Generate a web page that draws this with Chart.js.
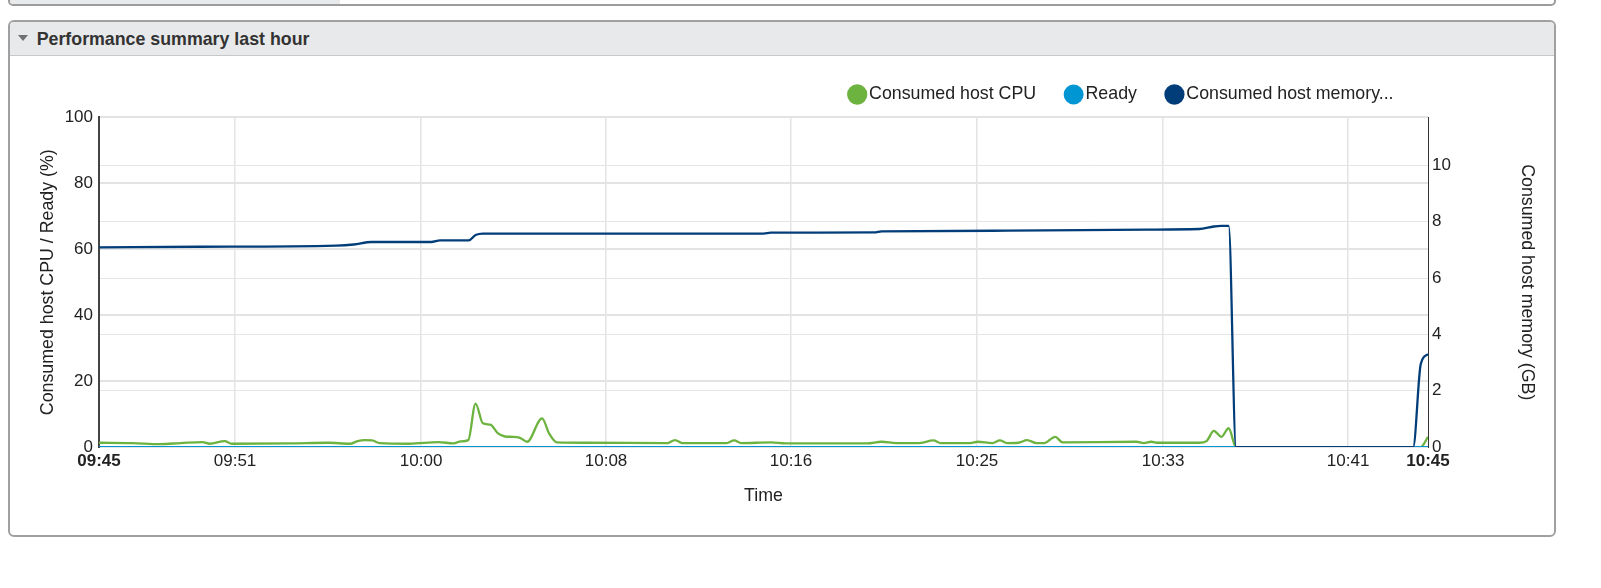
<!DOCTYPE html>
<html>
<head>
<meta charset="utf-8">
<title>Performance summary last hour</title>
<script src="https://cdn.jsdelivr.net/npm/chart.js@4.4.1/dist/chart.umd.min.js"></script>
<style>
  html, body { margin: 0; padding: 0; background: #fff; }
  body { width: 1601px; height: 588px; position: relative; overflow: hidden; font-family: Arial, "Liberation Sans", sans-serif; }
  .prev-panel { position: absolute; left: 8px; top: -10px; width: 1544px; height: 12px; border: 2px solid #9c9c9c; border-radius: 0 0 5px 5px; overflow: hidden; }
  .prev-panel .fill { position: absolute; left: 0; top: 0; bottom: 0; width: 330px; background: #e8eaec; }
  .panel { position: absolute; left: 8px; top: 20px; width: 1544px; height: 513px; border: 2px solid #a0a0a0; border-radius: 6px; }
  .panel-header { position: relative; height: 33px; background: #e8e9ea; border-bottom: 1px solid #c8c8c8; border-radius: 4px 4px 0 0; }
  .panel-header .caret { position: absolute; left: 8px; top: 13px; width: 0; height: 0; border-left: 5px solid transparent; border-right: 5px solid transparent; border-top: 6px solid #707070; }
  .panel-header .title { position: absolute; left: 26.7px; top: 0; line-height: 34px; font-weight: bold; font-size: 17.8px; color: #333; }
  #chart { position: absolute; left: 0; top: 0; z-index: 1; }
</style>
</head>
<body>
<div class="prev-panel"><div class="fill"></div></div>
<div class="panel">
  <div class="panel-header"><span class="caret"></span><span class="title">Performance summary last hour</span></div>
</div>
<canvas id="chart" width="1601" height="588"></canvas>

<script>
// time is in minutes after 09:45 (one hour window)
const cpuMinutes = [0, 1.5, 2.75, 3.67, 4.67, 5, 5.67, 6, 8.67, 10.33, 11.33, 11.67, 12, 12.33, 12.67, 14,
  15.33, 16, 16.33, 16.67, 17, 17.33, 17.67, 18, 18.33, 18.67, 19, 19.33, 20, 20.33, 20.67, 22,
  25.67, 26, 26.33, 28.33, 28.67, 29, 30.33, 31, 34.67, 35.33, 36, 37, 37.67, 38, 39.33, 39.67,
  40.33, 40.67, 41, 41.5, 41.9, 42.33, 42.67, 43.17, 43.5, 46.83, 47.17, 47.5, 47.83, 49.67,
  50, 50.33, 50.67, 51, 51.33, 59.67, 60];
const cpuPercent = [1.3, 1.2, 0.9, 1.2, 1.5, 1.0, 1.8, 1.0, 1.1, 1.3, 1.0, 1.8, 2.1, 2.0, 1.2, 1.0,
  1.5, 1.1, 1.7, 2.1, 13.2, 7.2, 6.8, 4.2, 3.2, 3.1, 2.8, 1.6, 8.7, 4.0, 1.4, 1.3,
  1.2, 2.1, 1.2, 1.2, 2.0, 1.2, 1.4, 1.1, 1.1, 1.6, 1.2, 1.2, 2.0, 1.2, 1.2, 1.6,
  1.2, 2.0, 1.2, 1.3, 2.1, 1.2, 1.2, 3.1, 1.4, 1.6, 1.2, 1.6, 1.3, 1.3,
  1.8, 4.9, 3.1, 5.7, 0, 0, 3.1];

const readyMinutes = [0, 60];
const readyPercent = [0, 0];

const memMinutes = [0, 4.5, 10.7, 11.5, 12.3, 15, 15.4, 16.7, 17, 17.33, 30, 30.33, 35, 35.33,
  41, 47.33, 49.67, 50.33, 50.67, 51, 51.33, 59.33, 59.67, 60];
const memGB = [7.09, 7.11, 7.15, 7.19, 7.28, 7.28, 7.34, 7.34, 7.53, 7.58, 7.58, 7.61, 7.62, 7.66,
  7.68, 7.72, 7.74, 7.83, 7.85, 7.85, 0, 0, 2.94, 3.30];

const timeTickMinutes = [0, 6.14, 14.54, 22.89, 31.24, 39.64, 48.04, 56.39, 60];
const timeTickLabels = ['09:45', '09:51', '10:00', '10:08', '10:16', '10:25', '10:33', '10:41', '10:45'];
const percentTicks = [0, 20, 40, 60, 80, 100];
const memoryTicks = [0, 2, 4, 6, 8, 10];
const memoryAxisMax = 11.7;

const FONT = 'Arial, "Liberation Sans", sans-serif';
const GREEN = '#6db33f';
const BLUE = '#0095d3';
const NAVY = '#003d79';
const TEXT = '#222';

const toPoints = (xs, ys) => xs.map((x, i) => ({ x: x, y: ys[i] }));
const lastTick = timeTickMinutes.length - 1;

// legend with align:'end' can push its last item onto a phantom second row
// because of float rounding; give the row width a hair of slack
const legendSlack = {
    id: 'legendSlack',
    afterLayout(chart) {
        const lg = chart.legend;
        if (lg && lg.lineWidths) lg.lineWidths = lg.lineWidths.map(w => w + 0.01);
    }
};

new Chart(document.getElementById('chart'), {
    type: 'line',
    data: {
        datasets: [{
            label: 'Consumed host CPU',
            data: toPoints(cpuMinutes, cpuPercent),
            yAxisID: 'y',
            borderColor: GREEN,
            backgroundColor: GREEN,
            pointBackgroundColor: GREEN,
            pointBorderColor: GREEN,
            borderWidth: 2.3,
            pointRadius: 0,
            cubicInterpolationMode: 'monotone',
            order: 2
        }, {
            label: 'Ready',
            data: toPoints(readyMinutes, readyPercent),
            yAxisID: 'y',
            borderColor: BLUE,
            backgroundColor: BLUE,
            pointBackgroundColor: BLUE,
            pointBorderColor: BLUE,
            borderWidth: 2,
            pointRadius: 0,
            order: 1
        }, {
            label: 'Consumed host memory...',
            data: toPoints(memMinutes, memGB),
            yAxisID: 'y1',
            borderColor: NAVY,
            backgroundColor: NAVY,
            pointBackgroundColor: NAVY,
            pointBorderColor: NAVY,
            borderWidth: 2.3,
            pointRadius: 0,
            cubicInterpolationMode: 'monotone',
            order: 0
        }]
    },
    options: {
        responsive: false,
        animation: false,
        events: [],
        layout: { padding: { left: 33.3, right: 59.3, top: 51.1, bottom: 78.3 } },
        plugins: {
            legend: {
                position: 'top',
                align: 'end',
                fullSize: false,
                labels: {
                    usePointStyle: true,
                    pointStyle: 'circle',
                    boxWidth: 6,
                    boxHeight: 12.7,
                    padding: 34.5,
                    color: TEXT,
                    font: { family: FONT, size: 17.8 },
                    sort: (a, b) => a.datasetIndex - b.datasetIndex
                }
            },
            // thin spacer between legend and plot
            subtitle: { display: true, text: '', weight: 500, padding: 0, font: { size: 3.4 } },
            tooltip: { enabled: false }
        },
        scales: {
            x: {
                type: 'linear',
                min: 0,
                max: 60,
                afterBuildTicks: s => { s.ticks = timeTickMinutes.map(v => ({ value: v })); },
                ticks: {
                    autoSkip: false,
                    maxRotation: 0,
                    padding: 4,
                    color: TEXT,
                    font: c => ({ family: FONT, size: 17, weight: (c.index === 0 || c.index === lastTick) ? 'bold' : 'normal' }),
                    callback: (v, i) => timeTickLabels[i]
                },
                grid: {
                    drawTicks: false,
                    lineWidth: 1.5,
                    color: c => (c.index === 0 || c.index === lastTick) ? 'rgba(0,0,0,0)' : '#e3e3e3'
                },
                border: { display: false },
                title: { display: true, text: 'Time', color: TEXT, font: { family: FONT, size: 17.8 }, padding: { top: 9.5, bottom: 3.4 } }
            },
            y: {
                position: 'left',
                min: 0,
                max: 100,
                afterBuildTicks: s => { s.ticks = percentTicks.map(v => ({ value: v })); },
                ticks: { padding: 6, color: TEXT, font: { family: FONT, size: 17 } },
                grid: { drawTicks: false, color: '#e3e3e3', lineWidth: 2 },
                border: { display: true, color: '#444', width: 2 },
                title: { display: true, text: 'Consumed host CPU / Ready (%)', color: TEXT, font: { family: FONT, size: 17.8 }, padding: { top: 4, bottom: 0 } }
            },
            y1: {
                position: 'right',
                min: 0,
                max: memoryAxisMax,
                afterBuildTicks: s => { s.ticks = memoryTicks.map(v => ({ value: v })); },
                ticks: { padding: 4, color: TEXT, font: { family: FONT, size: 17 } },
                grid: { drawTicks: false, color: '#e6e6e6', lineWidth: 1 },
                border: { display: true, color: '#333', width: 1 },
                title: { display: true, text: 'Consumed host memory (GB)', color: TEXT, font: { family: FONT, size: 17.8 }, padding: { top: 4, bottom: 61.4 } }
            }
        }
    },
    plugins: [legendSlack]
});
</script>
</body>
</html>
